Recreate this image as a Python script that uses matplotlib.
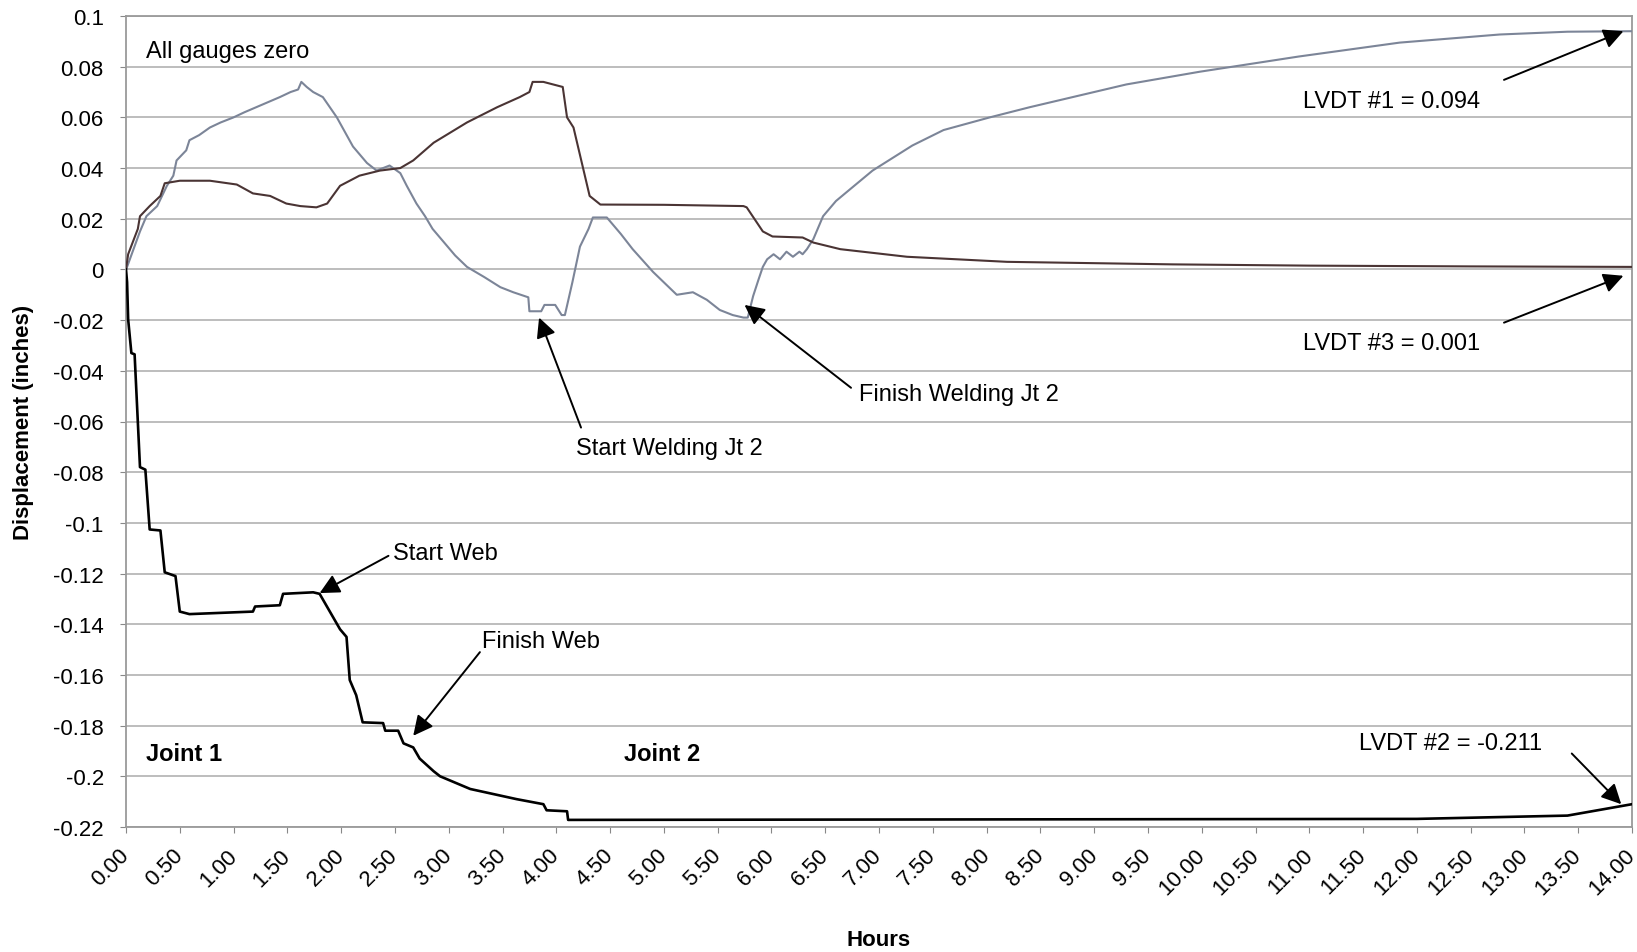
import numpy as np
import matplotlib
matplotlib.use("Agg")
import matplotlib.pyplot as plt

plt.rcParams['font.family'] = ['Liberation Sans', 'DejaVu Sans']

# LVDT #1 (gray) - hours / displacement (in)
hrs_1 = [0.00, 0.01, 0.07, 0.13, 0.19, 0.29, 0.38, 0.44, 0.47, 0.56, 0.59, 0.68,
         0.78, 0.88, 1.00, 1.10, 1.21, 1.32, 1.43, 1.53, 1.60, 1.63, 1.68, 1.74,
         1.83, 1.96, 2.11, 2.24, 2.33, 2.45, 2.55, 2.61, 2.70, 2.78, 2.85, 2.95,
         3.06, 3.17, 3.33, 3.48, 3.60, 3.74, 3.75, 3.86, 3.89, 3.99, 4.05, 4.08,
         4.15, 4.22, 4.30, 4.34, 4.47, 4.60, 4.71, 4.90, 5.12, 5.27, 5.40, 5.52,
         5.64, 5.74, 5.78, 5.83, 5.88, 5.92, 5.96, 6.02, 6.08, 6.14, 6.20, 6.26,
         6.29, 6.33, 6.39, 6.48, 6.60, 6.73, 6.94, 7.31, 7.60, 8.03, 8.40, 8.80,
         9.30, 9.98, 10.90, 11.84, 12.77, 13.40, 14.00]
lvdt_1 = [0.000, 0.001, 0.008, 0.015, 0.021, 0.025, 0.033, 0.037, 0.043, 0.047, 0.051, 0.053,
          0.056, 0.058, 0.060, 0.062, 0.064, 0.066, 0.068, 0.070, 0.071, 0.074, 0.072, 0.070,
          0.068, 0.060, 0.0485, 0.042, 0.039, 0.041, 0.038, 0.033, 0.026, 0.021, 0.016, 0.011,
          0.0055, 0.001, -0.003, -0.007, -0.009, -0.011, -0.0165, -0.0165, -0.014, -0.014, -0.018, -0.018,
          -0.005, 0.009, 0.016, 0.0205, 0.0205, 0.014, 0.008, -0.001, -0.010, -0.009, -0.012, -0.016,
          -0.018, -0.019, -0.019, -0.0105, -0.004, 0.001, 0.004, 0.006, 0.004, 0.007, 0.005, 0.007,
          0.006, 0.008, 0.012, 0.021, 0.027, 0.0316, 0.039, 0.0489, 0.055, 0.060, 0.064, 0.068,
          0.073, 0.078, 0.084, 0.0895, 0.0927, 0.0938, 0.094]

# LVDT #2 (black)
hrs_2 = [0.00, 0.01, 0.02, 0.05, 0.08, 0.13, 0.18, 0.22, 0.32, 0.36, 0.46, 0.50,
         0.59, 1.18, 1.20, 1.43, 1.46, 1.74, 1.80, 1.99, 2.05, 2.08, 2.14, 2.20,
         2.39, 2.41, 2.53, 2.58, 2.67, 2.73, 2.86, 2.92, 3.20, 3.63, 3.88, 3.91,
         4.10, 4.11, 12.00, 13.40, 14.00]
lvdt_2 = [0.000, -0.005, -0.0197, -0.033, -0.0335, -0.078, -0.079, -0.1026, -0.103, -0.1195, -0.121, -0.135,
          -0.136, -0.135, -0.133, -0.1325, -0.128, -0.1274, -0.128, -0.142, -0.145, -0.162, -0.168, -0.1787,
          -0.179, -0.182, -0.182, -0.187, -0.1886, -0.193, -0.198, -0.200, -0.205, -0.209, -0.211, -0.2134,
          -0.2138, -0.2172, -0.2168, -0.2155, -0.211]

# LVDT #3 (dark)
hrs_3 = [0.00, 0.02, 0.11, 0.13, 0.22, 0.32, 0.36, 0.50, 0.78, 1.03, 1.18, 1.34,
         1.49, 1.62, 1.77, 1.87, 1.99, 2.17, 2.36, 2.55, 2.67, 2.86, 3.17, 3.45,
         3.66, 3.75, 3.78, 3.88, 4.06, 4.10, 4.16, 4.31, 4.41, 5.00, 5.74, 5.77,
         5.92, 6.01, 6.29, 6.39, 6.64, 7.26, 8.19, 9.73, 11.00, 12.50, 14.00]
lvdt_3 = [0.000, 0.006, 0.016, 0.021, 0.025, 0.029, 0.034, 0.035, 0.035, 0.0335, 0.030, 0.029,
          0.026, 0.025, 0.0245, 0.026, 0.033, 0.037, 0.039, 0.040, 0.043, 0.050, 0.058, 0.064,
          0.068, 0.070, 0.074, 0.074, 0.072, 0.060, 0.056, 0.029, 0.0256, 0.0255, 0.025, 0.0245,
          0.015, 0.013, 0.0126, 0.0106, 0.008, 0.005, 0.003, 0.002, 0.0015, 0.0012, 0.001]

x_ticks = np.arange(0, 14.01, 0.5)
x_labels = [f"{t:.2f}" for t in x_ticks]
y_ticks = [0.1, 0.08, 0.06, 0.04, 0.02, 0, -0.02, -0.04, -0.06, -0.08, -0.1,
           -0.12, -0.14, -0.16, -0.18, -0.2, -0.22]
y_labels = ["0.1", "0.08", "0.06", "0.04", "0.02", "0", "-0.02", "-0.04", "-0.06", "-0.08", "-0.1",
            "-0.12", "-0.14", "-0.16", "-0.18", "-0.2", "-0.22"]

fig = plt.figure(figsize=(16.37, 9.53), dpi=100)
ax = fig.add_axes([126/1637, 1 - 828/953, 1506/1637, 811/953])

for yv in y_ticks:
    ax.axhline(yv, color='#b8b8b8', lw=1.3, zorder=0)

ax.plot(hrs_1, lvdt_1, color='#7c8598', lw=1.5, zorder=3)
ax.plot(hrs_3, lvdt_3, color='#4a3434', lw=1.5, zorder=3)
ax.plot(hrs_2, lvdt_2, color='black', lw=1.9, zorder=4)

ax.set_xlim(0, 14)
ax.set_ylim(-0.22, 0.1)
ax.set_xticks(x_ticks)
ax.set_xticklabels(x_labels, rotation=45, ha='right', va='center', rotation_mode='anchor')
ax.set_yticks(y_ticks)
ax.set_yticklabels(y_labels)
ax.tick_params(axis='x', labelsize=16, length=4, color='#888888', pad=14)
ax.tick_params(axis='y', labelsize=16, length=4, color='#888888', pad=12)
for side in ['left', 'bottom', 'right', 'top']:
    ax.spines[side].set_color('#9a9a9a')
    ax.spines[side].set_linewidth(1.3)

ax.set_xlabel('Hours', fontsize=16, fontweight='bold', labelpad=22)
ax.set_ylabel('Displacement (inches)', fontsize=16, fontweight='bold', labelpad=14)

# plain notes
ax.text(0.19, 0.086, 'All gauges zero', fontsize=17, ha='left', va='center')
ax.text(0.19, -0.191, 'Joint 1', fontsize=17, fontweight='bold', ha='left', va='center')
ax.text(4.63, -0.191, 'Joint 2', fontsize=17, fontweight='bold', ha='left', va='center')

# arrow notes: text, text position, arrow tail, arrow tip
arrow_style = dict(arrowstyle='-|>', color='black', lw=1.4, mutation_scale=30,
                   shrinkA=0, shrinkB=0)
notes = [
    ('Start Web', (2.48, -0.112), (2.44, -0.113), (1.80, -0.1277)),
    ('Finish Web', (3.31, -0.1468), (3.29, -0.151), (2.67, -0.184)),
    ('Start Welding Jt 2', (4.18, -0.0706), (4.23, -0.0624), (3.84, -0.019)),
    ('Finish Welding Jt 2', (6.81, -0.049), (6.74, -0.0467), (5.75, -0.014)),
    (f'LVDT #1 = {lvdt_1[-1]:.3f}', (10.94, 0.0663), (12.81, 0.0748), (13.92, lvdt_1[-1])),
    (f'LVDT #3 = {lvdt_3[-1]:.3f}', (10.94, -0.029), (12.81, -0.021), (13.92, -0.0025)),
    (f'LVDT #2 = {lvdt_2[-1]:.3f}', (11.46, -0.187), (13.44, -0.191), (13.90, lvdt_2[-1])),
]
for label, txt_xy, tail, tip in notes:
    ax.text(txt_xy[0], txt_xy[1], label, fontsize=17, ha='left', va='center', zorder=6)
    ax.annotate('', xy=tip, xytext=tail, arrowprops=arrow_style, zorder=6)

fig.savefig('out.png', dpi=100)
